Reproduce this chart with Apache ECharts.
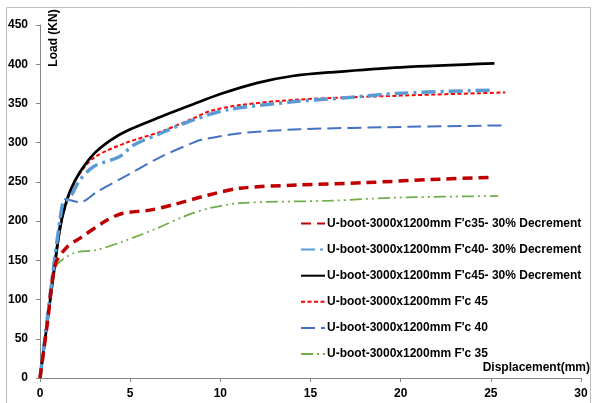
<!DOCTYPE html>
<html>
<head>
<meta charset="utf-8">
<script src="https://cdn.jsdelivr.net/npm/echarts@6/dist/echarts.min.js"></script>
<style>
html,body{margin:0;padding:0;background:#fff;}
#chart{width:592px;height:403px;}
</style>
</head>
<body>
<div id="chart"></div>
<script>
// Series names
var seriesNames = [
  "U-boot-3000x1200mm F'c35- 30% Decrement",
  "U-boot-3000x1200mm F'c40- 30% Decrement",
  "U-boot-3000x1200mm F'c45- 30% Decrement",
  "U-boot-3000x1200mm F'c 45",
  "U-boot-3000x1200mm F'c 40",
  "U-boot-3000x1200mm F'c 35"
];

// Data: [displacement (mm), load (kN)]
var fc35Dec = [[0,0],[0.4,68],[0.85,145],[1.5,167],[2.2,178],[3.7,201],[4.6,210],[6.1,214],[7.4,221],[9.3,233],[11.1,242],[14.3,246],[18,249],[21.7,253],[25.2,256]];
var fc40Dec = [[0,0],[0.4,75],[0.8,150],[1.1,200],[1.3,225],[1.6,228],[2.2,252],[3,270],[4.4,282],[5.2,297],[6.7,312],[8.5,329],[10.4,342],[14,352],[16.8,357],[20,363],[25,367]];
var fc45Dec = [[0,0],[0.4,70],[0.8,140],[1.1,190],[1.4,220],[1.7,240],[2.2,262],[3,286],[3.9,303],[4.8,315],[6.7,333],[8.5,349],[10,362],[12,376],[14,385],[16.3,390],[20,396],[25.2,401]];
var fc45 = [[0,0],[0.4,70],[0.8,140],[1.2,200],[1.6,232],[2.04,255],[3,281],[4.8,300],[6.7,314],[8.5,331],[9.4,340],[11.1,348],[14.4,355],[20,360],[25.8,364]];
var fc40 = [[0,0],[0.4,70],[0.8,145],[1.2,215],[1.4,228],[2.2,224],[3.2,238],[4.8,258],[6.7,282],[8.5,300],[9,304],[11.1,312],[14.4,317],[20,320],[25.6,322]];
var fc35 = [[0,0],[0.4,68],[0.83,140],[1.85,159],[3.1,163],[4.6,174],[6.5,191],[8,206],[9.3,216],[11.1,223],[16.1,226],[19.8,230],[25.4,232]];

var xTicks = {min: 0, max: 30, interval: 5};
var yTicks = {min: 0, max: 450, interval: 50};

var allData = [fc35Dec, fc40Dec, fc45Dec, fc45, fc40, fc35];
var styles = [
  {color:'#C00000', width:3.5, type:[10,6]},
  {color:'#5B9BD5', width:3.5, type:[14,5,3,5]},
  {color:'#000000', width:2.75, type:'solid'},
  {color:'#FF0000', width:2, type:[4,2.5]},
  {color:'#4472C4', width:2, type:[14,6]},
  {color:'#70AD47', width:1.75, type:[12,4,2,4,2,4]}
];

var chart = echarts.init(document.getElementById('chart'), null, {renderer:'canvas'});
var series = allData.map(function(d, i){
  return {
    name: seriesNames[i],
    type: 'line',
    data: d,
    smooth: 0.3,
    symbol: 'none',
    lineStyle: {color: styles[i].color, width: styles[i].width, type: styles[i].type, cap: 'butt'},
    itemStyle: {color: styles[i].color},
    z: 10 - i
  };
});

var font = "'Liberation Sans', Arial, sans-serif";
chart.setOption({
  animation: false,
  backgroundColor: '#fff',
  grid: {left: 40, top: 25, right: 11, bottom: 25, containLabel: false},
  xAxis: {
    type: 'value', min: xTicks.min, max: xTicks.max, interval: xTicks.interval,
    splitLine: {show: false},
    axisLine: {lineStyle: {color: '#868686', width: 1}},
    axisTick: {show: true, length: 4, lineStyle: {color: '#868686'}},
    axisLabel: {color: '#000', fontSize: 12, fontWeight: 'bold', fontFamily: font, margin: 10}
  },
  yAxis: {
    type: 'value', min: yTicks.min, max: yTicks.max, interval: yTicks.interval,
    splitLine: {show: false},
    axisLine: {show: true, lineStyle: {color: '#868686', width: 1}},
    axisTick: {show: true, length: 4, lineStyle: {color: '#868686'}},
    axisLabel: {color: '#000', fontSize: 12, fontWeight: 'bold', fontFamily: font, margin: 12}
  },
  legend: {
    orient: 'vertical',
    left: 300, top: 217.5, padding: 0,
    itemWidth: 24, itemHeight: 14, itemGap: 14.1,
    itemStyle: {color: 'rgba(0,0,0,0)', borderWidth: 0, borderColor: 'rgba(0,0,0,0)', opacity: 0},
    textStyle: {color: '#000', fontSize: 12, fontWeight: 'bold', fontFamily: font, padding: [0,0,0,-3]},
    data: seriesNames
  },
  graphic: [
    {type: 'rect', shape: {x: 6.5, y: 7.5, width: 584, height: 400}, style: {fill: 'none', stroke: '#bfbfbf', lineWidth: 1}, silent: true},
    {type: 'text', x: 54, y: 38, rotation: Math.PI/2,
      style: {text: 'Load (KN)', fill: '#000', font: "bold 12px " + font, textAlign: 'center', textVerticalAlign: 'middle'}},
    {type: 'text', x: 590, y: 368,
      style: {text: 'Displacement(mm)', fill: '#000', font: "bold 12px " + font, textAlign: 'right', textVerticalAlign: 'middle'}}
  ],
  series: series
});
</script>
</body>
</html>
